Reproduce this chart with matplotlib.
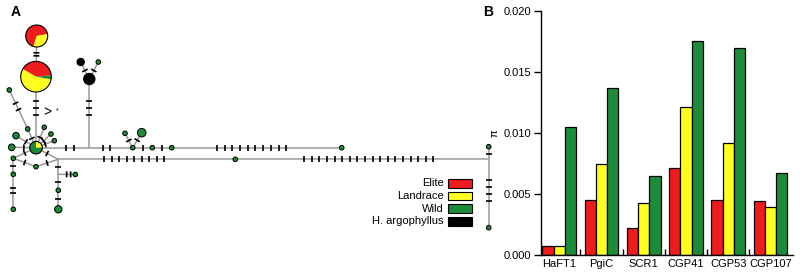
import numpy as np
import matplotlib.pyplot as plt
from matplotlib.patches import Circle, Wedge, Rectangle

plt.rcParams['font.family'] = ['Liberation Sans', 'DejaVu Sans']

# ---- panel B data (nucleotide diversity) ----
genes = ['HaFT1', 'PgiC', 'SCR1', 'CGP41', 'CGP53', 'CGP107']
pi_elite = [0.0007, 0.0045, 0.0022, 0.0071, 0.0045, 0.0044]
pi_landrace = [0.0007, 0.0075, 0.0043, 0.0121, 0.0092, 0.0039]
pi_wild = [0.0105, 0.0137, 0.0065, 0.0175, 0.0170, 0.0067]

groups = ['Elite', 'Landrace', 'Wild', 'H. argophyllus']
colors = ['#ee1c1c', '#ffff22', '#1d8c3a', '#000000']

# ---- panel A data (haplotype network) ----
node_names = ['top', 'pie2', 'hub', 'blk', 'blk2', 'gblk', 'jblk', 'ulfar', 'ulmid',
              'lbig', 'ul2', 'ur1', 'ur2', 'ur3', 'll', 'b1', 'jlow',
              'n1', 'n1a', 'n1b', 'n2', 'n3', 'n4', 'n5', 'jright', 'rtop', 'rbot',
              'll2', 'll3', 'jlow2', 'rbside', 'rb1', 'rb2']
node_x = [36.7, 36, 36, 89.3, 80.7, 98.3, 89.3, 9.3, 27.7,
          11.7, 16, 44.3, 51, 54.3, 13.3, 36, 58.3,
          132.7, 125, 141.7, 152.3, 171.7, 341.7, 235.3, 488.7, 488.7, 488.7,
          13.3, 13.3, 58.3, 75.3, 58.3, 58.3]
node_y = [36, 76.7, 147.7, 79, 62, 62, 147.7, 90, 129,
          147.3, 135.7, 127.3, 134, 140.7, 158.3, 166.7, 159.3,
          147.7, 133.3, 132.7, 147.7, 147.7, 147.7, 159.3, 159.3, 146.7, 227.7,
          174.3, 209.3, 174.3, 174.5, 190.3, 209.3]
# haplotype frequency class -> circle radius (0 = median vector / junction)
node_r = [11, 15.3, 6.3, 5.7, 3.7, 2.3, 0, 2.3, 2.3,
          3.3, 3.3, 2.3, 2.3, 2.3, 2.3, 2.3, 0,
          2.3, 2.3, 4.3, 2.3, 2.3, 2.3, 2.3, 0, 2.3, 2.3,
          2.3, 2.3, 0, 2.3, 2.3, 3.7]
node_grp = ['pie', 'pie', 'pie', 'H', 'H', 'W', '', 'W', 'W',
            'W', 'W', 'W', 'W', 'W', 'W', 'W', '',
            'W', 'W', 'W', 'W', 'W', 'W', 'W', '', 'W', 'W',
            'W', 'W', '', 'W', 'W', 'W']
# pie composition (elite, landrace, wild) and start angle
pie_frac = {'top': [0.675, 0.325, 0.0], 'pie2': [0.403, 0.555, 0.042], 'hub': [0.0, 0.25, 0.75]}
pie_start = {'top': 10, 'pie2': 5, 'hub': 0}

# edges: from, to, number of mutations, position of mutation ticks, tick spacing
edge_a = ['top', 'pie2', 'blk', 'blk', 'blk', 'ulfar', 'ulmid', 'lbig', 'ul2', 'ur1', 'ur2', 'ur3',
          'hub', 'jblk', 'n1', 'n1', 'n1', 'n2', 'n3', 'hub', 'll', 'hub', 'b1',
          'jlow', 'n5', 'jright', 'jright', 'll', 'll2', 'jlow', 'jlow2', 'jlow2', 'rb1']
edge_b = ['pie2', 'hub', 'jblk', 'blk2', 'gblk', 'ulmid', 'hub', 'hub', 'hub', 'hub', 'hub', 'hub',
          'jblk', 'n1', 'n1a', 'n1b', 'n2', 'n3', 'n4', 'll', 'b1', 'jlow', 'jlow',
          'n5', 'jright', 'rtop', 'rbot', 'll2', 'll3', 'jlow2', 'rbside', 'rb1', 'rb2']
edge_n = [2, 3, 3, 1, 1, 2, 1, 1, 1, 1, 1, 1,
          2, 2, 1, 1, 1, 1, 10, 1, 1, 1, 1,
          9, 18, 1, 4, 1, 2, 1, 2, 1, 1]
edge_t = [0.45, 0.44, 0.42, 0.5, 0.5, 0.42, 0.5, 0.5, 0.5, 0.5, 0.5, 0.5,
          0.64, 0.4, 0.5, 0.5, 0.5, 0.5, 0.47, 0.5, 0.5, 0.5, 0.5,
          0.43, 0.527, 0.45, 0.45, 0.5, 0.46, 0.5, 0.61, 0.5, 0.47]
edge_sp = [3, 7.3, 7.3, 5, 5, 7, 5, 5, 5, 5, 5, 5,
           7.3, 6.7, 5, 5, 5, 5, 7.7, 5, 5, 5, 5,
           7.5, 7.6, 5, 7, 5, 4.5, 5, 4, 5, 5]

fig = plt.figure(figsize=(8, 2.79), dpi=100)

# ================= Panel A =================
axa = fig.add_axes([0, 0, 500 / 800, 1])
axa.set_xlim(0, 500)
axa.set_ylim(279, 0)
axa.axis('off')

pos = {n: np.array([x, y]) for n, x, y in zip(node_names, node_x, node_y)}
rad = dict(zip(node_names, node_r))
grp = dict(zip(node_names, node_grp))
tick_len = 6

for a, b, n, t, sp in zip(edge_a, edge_b, edge_n, edge_t, edge_sp):
    p0, p1 = pos[a], pos[b]
    axa.plot([p0[0], p1[0]], [p0[1], p1[1]], color='#9a9a9a', lw=1.1, zorder=1,
             solid_capstyle='butt')
    d = (p1 - p0) / np.linalg.norm(p1 - p0)
    perp = np.array([-d[1], d[0]])
    c = p0 + t * (p1 - p0)
    for k in range(n):
        q = c + (k - (n - 1) / 2) * sp * d
        h0, h1 = q - perp * tick_len / 2, q + perp * tick_len / 2
        axa.plot([h0[0], h1[0]], [h0[1], h1[1]], color='black', lw=1.2, zorder=2,
                 solid_capstyle='butt')

gcol = {'W': colors[2], 'H': colors[3]}
for n in node_names:
    r = rad[n]
    if r == 0:
        continue
    x, y = pos[n]
    if grp[n] == 'pie':
        ang = pie_start[n]
        for f, col in zip(pie_frac[n], colors[:3]):
            if f <= 0:
                continue
            a2 = ang + f * 360
            # y axis is inverted, so flip the angles
            axa.add_patch(Wedge((x, y), r, -a2, -ang, facecolor=col, edgecolor='none', zorder=3))
            ang = a2
        axa.add_patch(Circle((x, y), r, facecolor='none', edgecolor='black', lw=0.8, zorder=4))
    else:
        axa.add_patch(Circle((x, y), r, facecolor=gcol[grp[n]], edgecolor='black', lw=0.7, zorder=3))

axa.text(47, 112, '>', fontsize=10, ha='center', va='center', transform=axa.transData)
axa.text(57, 111, '*', fontsize=5, ha='center', va='center')

# legend
for i, (g, col) in enumerate(zip(groups, colors)):
    yc = 183.3 + i * 12.6
    axa.add_patch(Rectangle((447.7, yc - 4.4), 24.6, 8.8, facecolor=col,
                            edgecolor='black', lw=0.8, zorder=3))
    axa.text(443.5, yc, g, fontsize=8, ha='right', va='center')

fig.text(16 / 800, 1 - 12.5 / 279, 'A', fontsize=10, fontweight='bold', ha='center', va='center')

# ================= Panel B =================
axb = fig.add_axes([541 / 800, 24 / 279, 252 / 800, 244 / 279])
x = np.arange(len(genes))
w = 0.266
for off, vals, col in zip([-w, 0, w], [pi_elite, pi_landrace, pi_wild], colors[:3]):
    axb.bar(x + off, vals, width=w, color=col, edgecolor='black', linewidth=0.9)

axb.set_xlim(-0.43, 5.53)
axb.set_ylim(0, 0.020)
axb.set_yticks([0, 0.005, 0.010, 0.015, 0.020])
axb.set_yticklabels(['0.000', '0.005', '0.010', '0.015', '0.020'])
axb.set_xticks(x)
axb.set_xticklabels(genes)
axb.set_xticks(x[:-1] + 0.5, minor=True)
axb.tick_params(axis='x', which='major', length=0, pad=3, labelsize=8)
axb.tick_params(axis='x', which='minor', direction='in', length=4, width=1.0)
axb.tick_params(axis='y', direction='out', length=5, width=1.0, labelsize=8, pad=2)
for s in ['top', 'right']:
    axb.spines[s].set_visible(False)
for s in ['left', 'bottom']:
    axb.spines[s].set_linewidth(1.0)
axb.set_ylabel('π', fontsize=8, labelpad=2)
axb.yaxis.set_label_coords(-0.165, 0.5)

fig.text(488 / 800, 1 - 12.5 / 279, 'B', fontsize=10, fontweight='bold', ha='center', va='center')

fig.savefig('out.png', dpi=100)
